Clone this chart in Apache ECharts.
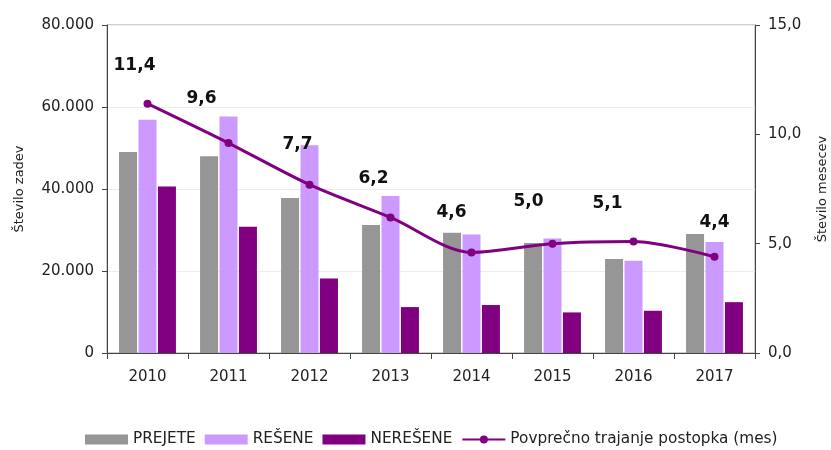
<!DOCTYPE html>
<html>
<head>
<meta charset="utf-8">
<script src="https://cdn.jsdelivr.net/npm/echarts@6/dist/echarts.min.js"></script>
<style>
  html, body { margin: 0; padding: 0; background: #fff; }
  #chart { width: 831px; height: 450px; }
</style>
</head>
<body>
<div id="chart"></div>
<script>
// categories and values
const years = ['2010', '2011', '2012', '2013', '2014', '2015', '2016', '2017']
const prejete = [49000, 48000, 37800, 31200, 29300, 26800, 22900, 29000]
const resene = [56900, 57700, 50700, 38300, 28900, 27900, 22500, 27100]
const neresene = [40600, 30800, 18200, 11200, 11700, 9900, 10300, 12400]
const trajanje = [11.4, 9.6, 7.7, 6.2, 4.6, 5.0, 5.1, 4.4]

// where each duration label sits relative to its point
const labelShift = [[-13, -26], [-27, -32], [-12, -28], [-17, -26], [-20, -27], [-24, -30], [-26, -25], [0, -22]]

const FONT = 'DejaVu Sans, sans-serif'

let chart = echarts.init(document.getElementById('chart'))

chart.setOption({
    animation: false,
    textStyle: { fontFamily: FONT },
    grid: {
        left: 107,
        right: 76,
        top: 25,
        bottom: 97,
        outerBoundsMode: 'none',
        show: true,
        borderColor: '#a0a0a0',
        borderWidth: 1
    },
    legend: {
        top: 427,
        left: 80,
        itemWidth: 43,
        itemHeight: 10,
        itemGap: 9,
        textStyle: { fontSize: 15.3, color: '#222', fontFamily: FONT },
        data: [
            { name: 'PREJETE', icon: 'rect' },
            { name: 'REŠENE', icon: 'rect' },
            { name: 'NEREŠENE', icon: 'rect' },
            'Povprečno trajanje postopka (mes)'
        ]
    },
    xAxis: {
        type: 'category',
        data: years,
        axisLine: { lineStyle: { color: '#444' } },
        axisTick: { show: true, length: 6, lineStyle: { color: '#444' } },
        axisLabel: { fontSize: 15, color: '#222', margin: 17 }
    },
    yAxis: [
        {
            type: 'value',
            min: 0,
            max: 80000,
            interval: 20000,
            name: 'Število zadev',
            nameLocation: 'middle',
            nameRotate: 90,
            nameGap: 81,
            nameTextStyle: { fontSize: 13, color: '#222' },
            axisLine: { show: true, lineStyle: { color: '#444' } },
            axisTick: { show: true, length: 5, lineStyle: { color: '#444' } },
            axisLabel: {
                fontSize: 15,
                color: '#222',
                margin: 13,
                formatter: v => v.toLocaleString('de-DE')
            },
            splitLine: { lineStyle: { color: '#ececec' } }
        },
        {
            type: 'value',
            min: 0,
            max: 15,
            interval: 5,
            position: 'right',
            name: 'Število mesecev',
            nameLocation: 'middle',
            nameRotate: 90,
            nameGap: 61,
            nameTextStyle: { fontSize: 13, color: '#222' },
            axisLine: { show: true, lineStyle: { color: '#444' } },
            axisTick: { show: true, length: 5, lineStyle: { color: '#444' } },
            axisLabel: {
                fontSize: 15,
                color: '#222',
                margin: 13,
                formatter: v => v.toFixed(1).replace('.', ',')
            },
            splitLine: { show: false }
        }
    ],
    series: [
        {
            name: 'PREJETE',
            type: 'bar',
            barWidth: 18,
            barGap: '8%',
            itemStyle: { color: '#969696' },
            data: prejete
        },
        {
            name: 'REŠENE',
            type: 'bar',
            barWidth: 18,
            barGap: '8%',
            itemStyle: { color: '#cc99ff' },
            data: resene
        },
        {
            name: 'NEREŠENE',
            type: 'bar',
            barWidth: 18,
            barGap: '8%',
            itemStyle: { color: '#800080' },
            data: neresene
        },
        {
            name: 'Povprečno trajanje postopka (mes)',
            type: 'line',
            yAxisIndex: 1,
            smooth: 0.3,
            symbol: 'circle',
            symbolSize: 8,
            lineStyle: { color: '#800080', width: 3 },
            itemStyle: { color: '#800080' },
            label: {
                show: true,
                position: 'top',
                distance: 0,
                fontSize: 17,
                fontWeight: 'bold',
                color: '#111',
                formatter: p => p.value.toFixed(1).replace('.', ',')
            },
            data: trajanje.map((v, i) => ({ value: v, label: { offset: labelShift[i] } }))
        }
    ]
})
</script>
</body>
</html>
